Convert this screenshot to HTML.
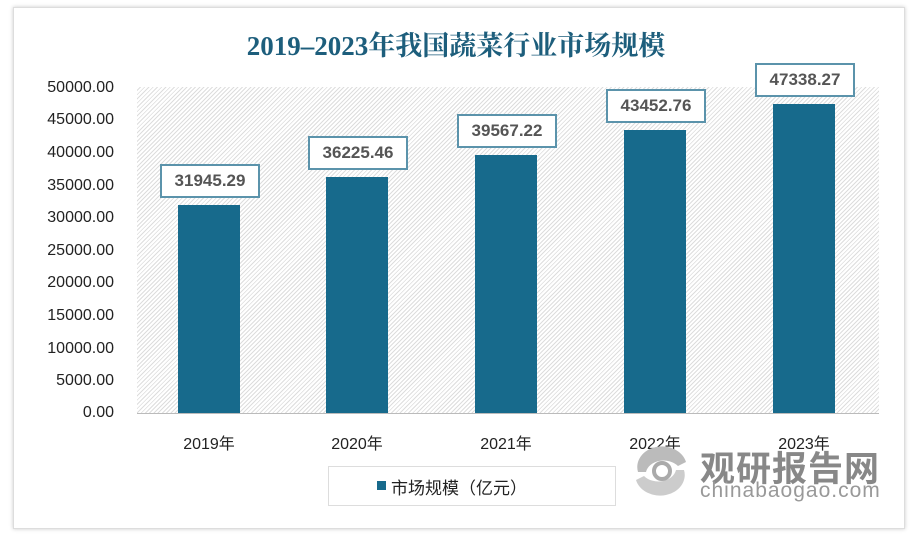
<!DOCTYPE html>
<html><head><meta charset="utf-8"><style>
body{margin:0;width:910px;height:540px;background:#fff;position:relative;overflow:hidden;font-family:"Liberation Sans","Noto Sans CJK SC",sans-serif}
.frame{position:absolute;left:13px;top:7px;width:890px;height:520px;border:1px solid #ddd;box-shadow:0 0 4px #ccc;background:#fff}
.title{position:absolute;left:0;width:912px;top:24px;text-align:center;font:bold 27px "Liberation Serif","Noto Serif CJK SC",serif;color:#1d5e7c}
.plot{position:absolute;left:137px;top:87px;width:742px;height:326px;background:repeating-linear-gradient(135deg,#fff 0 2px,#ddd 2px 3px);border-bottom:1px solid #bbb}
.yl{position:absolute;left:20px;width:94px;text-align:right;font-size:16px;color:#222}
.bar{position:absolute;width:62px;background:#176a8c}
.lab{position:absolute;width:96px;height:30px;border:2px solid #5b93ab;background:#fff;text-align:center;line-height:30px;font-size:17px;font-weight:bold;color:#555}
.xl{position:absolute;top:430px;width:100px;text-align:center;font-size:16px;color:#222}
</style></head><body>
<div class="frame"></div>
<div class="title">2019–2023年我国蔬菜行业市场规模</div>
<div class="plot"></div>
<div class="yl" style="top:79px">50000.00</div>
<div class="yl" style="top:111px">45000.00</div>
<div class="yl" style="top:144px">40000.00</div>
<div class="yl" style="top:177px">35000.00</div>
<div class="yl" style="top:209px">30000.00</div>
<div class="yl" style="top:242px">25000.00</div>
<div class="yl" style="top:274px">20000.00</div>
<div class="yl" style="top:307px">15000.00</div>
<div class="yl" style="top:340px">10000.00</div>
<div class="yl" style="top:372px">5000.00</div>
<div class="yl" style="top:404px">0.00</div>

<div class="bar" style="left:178px;top:205px;height:208px"></div>
<div class="bar" style="left:326px;top:177px;height:236px"></div>
<div class="bar" style="left:475px;top:155px;height:258px"></div>
<div class="bar" style="left:624px;top:130px;height:283px"></div>
<div class="bar" style="left:773px;top:104px;height:309px"></div>

<div class="lab" style="left:160px;top:164px">31945.29</div>
<div class="lab" style="left:308px;top:136px">36225.46</div>
<div class="lab" style="left:457px;top:114px">39567.22</div>
<div class="lab" style="left:606px;top:89px">43452.76</div>
<div class="lab" style="left:755px;top:63px">47338.27</div>

<div class="xl" style="left:159px">2019年</div>
<div class="xl" style="left:307px">2020年</div>
<div class="xl" style="left:456px">2021年</div>
<div class="xl" style="left:605px">2022年</div>
<div class="xl" style="left:754px">2023年</div>

<div style="position:absolute;left:328px;top:466px;width:286px;height:38px;border:1px solid #ddd;background:#fff"></div>
<div style="position:absolute;left:377px;top:481px;width:9px;height:9px;background:#176a8c"></div>
<div style="position:absolute;left:391px;top:474px;font-size:17px;color:#222">市场规模（亿元）</div>

<svg style="position:absolute;left:628px;top:442px" width="66" height="56"><path d="M10 30 A24 20 0 0 1 58 20 L50 24 A18 14 0 0 0 18 30 Z" fill="#bbb"/><path d="M56 28 A24 20 0 0 1 8 38 L16 34 A18 14 0 0 0 48 28 Z" fill="#ccc"/><circle cx="34" cy="29" r="8" fill="none" stroke="#aaa" stroke-width="4"/></svg>
<div style="position:absolute;left:700px;top:441px;font:bold 35px 'Noto Sans CJK SC',sans-serif;color:#888;letter-spacing:1px">观研报告网</div>
<div style="position:absolute;left:700px;top:479px;font-size:21px;color:#999;letter-spacing:1px">chinabaogao.com</div>
</body></html>
